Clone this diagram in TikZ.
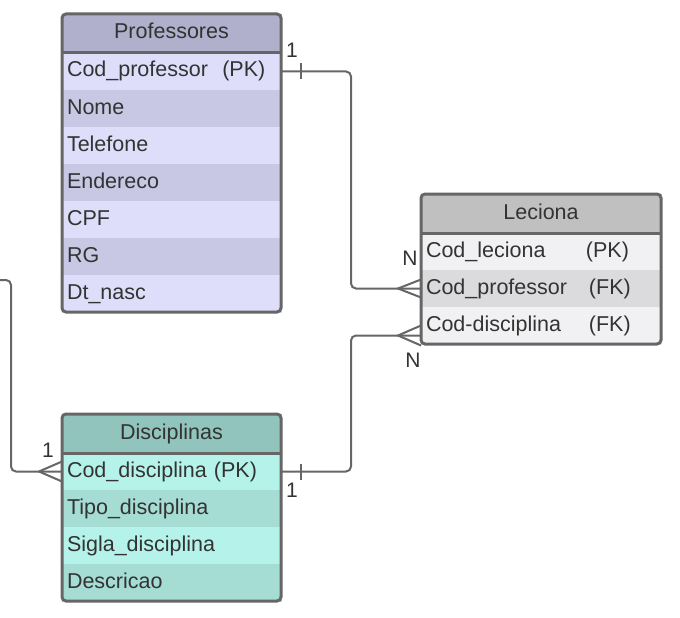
\documentclass[tikz,border=0pt]{standalone}
\usepackage{fontspec}
\setmainfont{Liberation Sans}
\usetikzlibrary{positioning}
\definecolor{txt}{RGB}{51,51,51}
\definecolor{edge}{RGB}{102,102,102}
\definecolor{profhead}{RGB}{176,176,204}
\definecolor{proflight}{RGB}{222,222,250}
\definecolor{profdark}{RGB}{200,200,228}
\definecolor{lechead}{RGB}{192,192,192}
\definecolor{leclight}{RGB}{241,241,243}
\definecolor{lecdark}{RGB}{219,219,221}
\definecolor{dischead}{RGB}{145,196,188}
\definecolor{disclight}{RGB}{181,243,234}
\definecolor{discdark}{RGB}{165,220,212}
\tikzset{
  row/.style={fill=#1, draw=#1, line width=0.6pt, outer sep=0pt, minimum width=219pt, minimum height=37pt,
    text width=209pt, inner xsep=5pt, inner ysep=0pt, text height=15pt, text depth=4pt,
    align=left, anchor=north west, text=txt, font=\fontsize{21.5}{24}\selectfont},
  head/.style={row=#1, minimum height=39pt, align=center},
  wide/.style={minimum width=240pt, text width=230pt},
  border/.style={draw=edge, line width=3pt, rounded corners=4pt},
  rel/.style={draw=edge, line width=2pt, rounded corners=5pt},
  foot/.style={draw=edge, line width=2pt},
  card/.style={text=txt, inner sep=0pt, font=\fontsize{21}{24}\selectfont}
}
\begin{document}
\begin{tikzpicture}[x=1pt, y=-1pt, node distance=0pt]
\useasboundingbox (0,0) rectangle (680,618);
\node (P0) [head=profhead] at (62,14) {Professores};
\node (P1) [row=proflight, below=of P0] {Cod\_professor\ \ (PK)};
\node (P2) [row=profdark, below=of P1] {Nome};
\node (P3) [row=proflight, below=of P2] {Telefone};
\node (P4) [row=profdark, below=of P3] {Endereco};
\node (P5) [row=proflight, below=of P4] {CPF};
\node (P6) [row=profdark, below=of P5] {RG};
\node (P7) [row=proflight, below=of P6] {Dt\_nasc};
\draw[border] (P0.north west) rectangle (P7.south east);
\draw[border, rounded corners=0pt] (P0.south west) -- (P0.south east);

\node (L0) [head=lechead, wide] at (421,194) {Leciona};
\node (L1) [row=leclight, wide, below=of L0] {\makebox[160pt][l]{Cod\_leciona}(PK)};
\node (L2) [row=lecdark, wide, below=of L1] {\makebox[163pt][l]{Cod\_professor}(FK)};
\node (L3) [row=leclight, wide, below=of L2] {\makebox[163pt][l]{Cod-disciplina}(FK)};
\draw[border] (L0.north west) rectangle (L3.south east);
\draw[border, rounded corners=0pt] (L0.south west) -- (L0.south east);

\node (D0) [head=dischead] at (62,414) {Disciplinas};
\node (D1) [row=disclight, below=of D0] {Cod\_disciplina (PK)};
\node (D2) [row=discdark, below=of D1] {Tipo\_disciplina};
\node (D3) [row=disclight, below=of D2] {Sigla\_disciplina};
\node (D4) [row=discdark, below=of D3] {Descricao};
\draw[border] (D0.north west) rectangle (D4.south east);
\draw[border, rounded corners=0pt] (D0.south west) -- (D0.south east);

\coordinate (lf) at ([yshift=-10pt]L3.west);
\coordinate (out) at (0,280);
\draw[rel] (P1.east) -- ++(70,0) |- (L2.west);
\draw[rel] (D1.east) -- ++(70,0) |- (lf);
\draw[rel] (out) -- ++(11,0) |- (D1.west);
\draw[foot] ([xshift=20pt,yshift=8pt]P1.east) -- ([xshift=20pt,yshift=-8pt]P1.east);
\draw[foot] ([xshift=20pt,yshift=8pt]D1.east) -- ([xshift=20pt,yshift=-8pt]D1.east);
\draw[foot] ([yshift=9pt]L2.west) -- ([xshift=-23pt]L2.west) -- ([yshift=-9pt]L2.west);
\draw[foot] ([yshift=10pt]lf) -- ([xshift=-23pt]lf) -- ([yshift=-10pt]lf);
\draw[foot] ([yshift=10pt]D1.west) -- ([xshift=-23pt]D1.west) -- ([yshift=-10pt]D1.west);

\node (c1) [card] at (292,50) {1};
\node (c2) [card] at (410,258) {N};
\node (c3) [card] at (413,360) {N};
\node (c4) [card] at (292,490) {1};
\node (c5) [card] at (48,450) {1};
\end{tikzpicture}
\end{document}
